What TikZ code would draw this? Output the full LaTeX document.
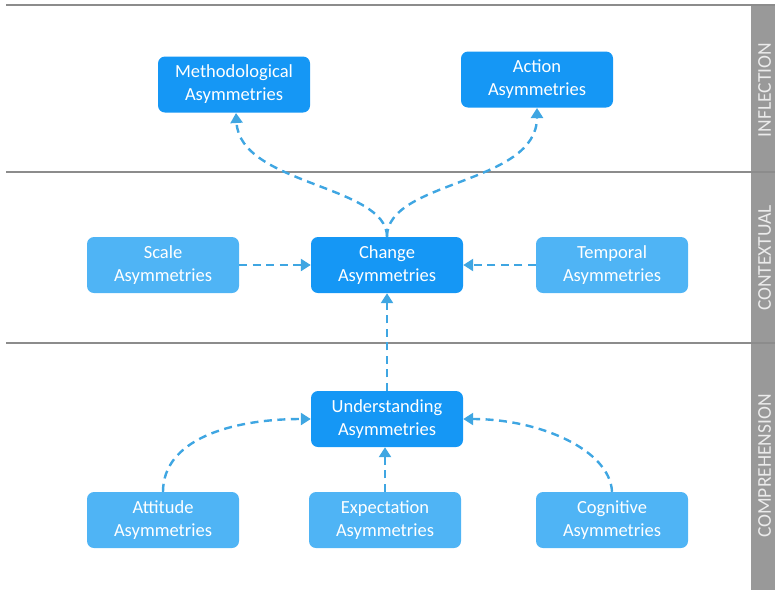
\documentclass[tikz,border=0pt]{standalone}
\usepackage{fontspec}
\setmainfont{Carlito}
\usetikzlibrary{arrows.meta}
\definecolor{boxdark}{HTML}{1597F5}
\definecolor{boxlight}{HTML}{4FB4F5}
\definecolor{linkblue}{HTML}{3FA6E2}
\definecolor{bandgray}{HTML}{999999}
\definecolor{rulegray}{HTML}{8C8C8C}
\tikzset{
  box/.style={rounded corners=7pt, minimum width=152pt, minimum height=56pt,
    text=white, align=center, font=\fontsize{18.5}{23}\selectfont, inner sep=0pt},
  mainbox/.style={box, fill=boxdark},
  subbox/.style={box, fill=boxlight},
  link/.style={draw=linkblue, line width=2.4pt, dash pattern=on 8pt off 5.5pt,
    -{Triangle[length=10pt,width=12pt]}},
  rule/.style={draw=rulegray, line width=1.6pt},
  bandlabel/.style={text=white!92!black, rotate=90, font=\fontsize{19.5}{21}\selectfont}
}
\begin{document}
\begin{tikzpicture}[x=1pt,y=-1pt]
\useasboundingbox (0,0) rectangle (775,590);
% side band with the three level names
\fill[bandgray] (751,5) rectangle (775,590);
\node[bandlabel] (lblA) at (764.5,90) {INFLECTION};
\node[bandlabel] (lblB) at (764.5,258) {CONTEXTUAL};
\node[bandlabel] (lblC) at (764.5,466) {COMPREHENSION};
% level separators
\draw[rule] (6,5) -- (775,5);
\draw[rule] (6,172) -- (775,172);
\draw[rule] (6,343) -- (775,343);
% boxes
\node[mainbox] (meth) at (234,84.5) {Methodological\\Asymmetries};
\node[mainbox] (act) at (537,79.5) {Action\\Asymmetries};
\node[subbox] (scale) at (163,265) {Scale\\Asymmetries};
\node[mainbox] (chg) at (387,265) {Change\\Asymmetries};
\node[subbox] (temp) at (612,265) {Temporal\\Asymmetries};
\node[mainbox] (und) at (387,419) {Understanding\\Asymmetries};
\node[subbox] (att) at (163,520) {Attitude\\Asymmetries};
\node[subbox] (exp) at (385,520) {Expectation\\Asymmetries};
\node[subbox] (cog) at (612,520) {Cognitive\\Asymmetries};
% connectors
\draw[link] (chg.north) .. controls (387,185) and (240,185) .. (236,113);
\draw[link] (chg.north) .. controls (387,180) and (537,185) .. (537,108);
\draw[link] (scale.east) -- (chg.west);
\draw[link] (temp.west) -- (chg.east);
\draw[link] (und.north) -- (chg.south);
\draw[link] (att.north) .. controls (163,440) and (230,419) .. (und.west);
\draw[link] (exp.north) -- (exp.north |- und.south);
\draw[link] (cog.north) .. controls (610,450) and (540,419) .. (und.east);
\end{tikzpicture}
\end{document}
